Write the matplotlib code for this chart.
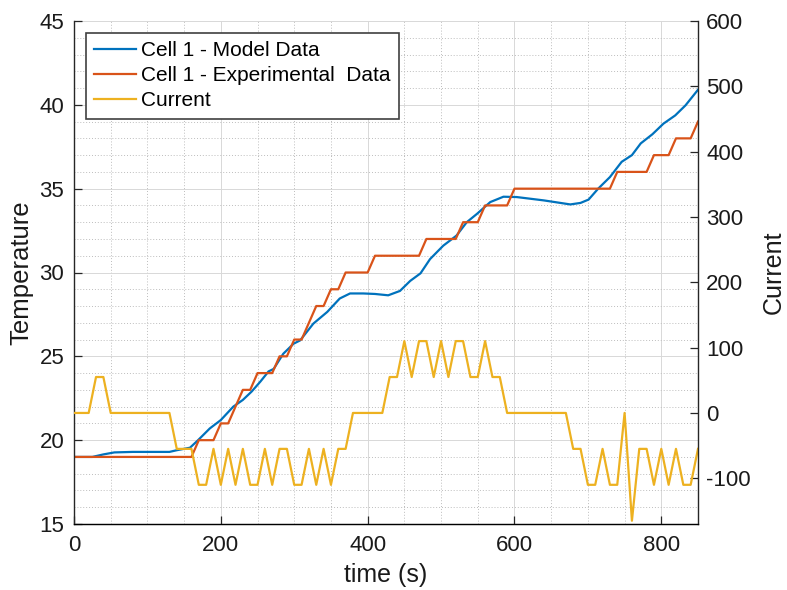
import matplotlib
matplotlib.use('Agg')
import matplotlib.pyplot as plt
import numpy as np

plt.rcParams['font.family'] = ['Liberation Sans', 'DejaVu Sans']
plt.rcParams['axes.unicode_minus'] = False

# ---- data ----
time_model = [0, 25, 40, 55, 80, 110, 130, 140, 158, 169, 185, 200, 217, 230, 242, 254,
              265, 272, 285, 299, 308, 326, 345, 362, 376, 394, 410, 428, 444, 458, 472,
              485, 503, 521, 535, 549, 567, 585, 603, 640, 676, 690, 701, 714, 730, 746,
              760, 772, 788, 803, 819, 833, 850]
temp_model = [19.0, 19.0, 19.15, 19.27, 19.3, 19.3, 19.3, 19.4, 19.55, 20.0, 20.7, 21.2,
              22.0, 22.4, 22.9, 23.5, 24.1, 24.25, 25.15, 25.75, 25.95, 26.95, 27.65,
              28.45, 28.75, 28.75, 28.72, 28.64, 28.9, 29.5, 29.95, 30.8, 31.6, 32.2,
              33.0, 33.5, 34.2, 34.52, 34.5, 34.3, 34.06, 34.15, 34.35, 35.0, 35.69,
              36.6, 37.0, 37.7, 38.25, 38.88, 39.37, 39.97, 40.9]

time_exp = [0, 160, 170, 190, 200, 210, 230, 240, 250, 270, 280, 290, 300, 310, 330, 340,
            350, 360, 370, 400, 410, 470, 480, 520, 530, 550, 560, 590, 600, 730, 740,
            780, 790, 810, 820, 840, 850]
temp_exp = [19, 19, 20, 20, 21, 21, 23, 23, 24, 24, 25, 25, 26, 26, 28, 28,
            29, 29, 30, 30, 31, 31, 32, 32, 33, 33, 34, 34, 35, 35, 36,
            36, 37, 37, 38, 38, 39]

time_current = [0, 20, 30, 40, 50, 130, 140, 160, 170, 180, 190, 200, 210, 220, 230, 240,
                250, 260, 270, 280, 290, 300, 310, 320, 330, 340, 350, 360, 370, 380,
                420, 430, 440, 450, 460, 470, 480, 490, 500, 510, 520, 530, 540, 550,
                560, 570, 580, 590, 670, 680, 690, 700, 710, 720, 730, 740, 750, 760,
                770, 780, 790, 800, 810, 820, 830, 840, 850]
current = [0, 0, 55, 55, 0, 0, -55, -55, -110, -110, -55, -110, -55, -110, -55, -110,
           -110, -55, -110, -55, -55, -110, -110, -55, -110, -55, -110, -55, -55, 0,
           0, 55, 55, 110, 55, 110, 110, 55, 110, 55, 110, 110, 55, 55,
           110, 55, 55, 0, 0, -55, -55, -110, -110, -55, -110, -110, 0, -165,
           -55, -55, -110, -55, -110, -55, -110, -110, -55]

legend_labels = ['Cell 1 - Model Data', 'Cell 1 - Experimental  Data', 'Current']
x_ticks = [0, 200, 400, 600, 800]
temp_ticks = [15, 20, 25, 30, 35, 40, 45]
current_ticks = [-100, 0, 100, 200, 300, 400, 500, 600]

# ---- figure ----
W, H = 787, 590
fig = plt.figure(figsize=(W / 100, H / 100), dpi=100)
ax = fig.add_axes([74 / W, 1 - 524 / H, 624 / W, 503 / H])
ax2 = ax.twinx()

blue = '#0072BD'
orange = '#D95319'
yellow = '#EDB120'
dark = '#262626'

l1, = ax.plot(time_model, temp_model, color=blue, lw=1.6)
l2, = ax.plot(time_exp, temp_exp, color=orange, lw=1.6)
l3, = ax2.plot(time_current, current, color=yellow, lw=1.6)

ax.set_xlim(0, 850)
ax.set_ylim(15, 45)
ax2.set_ylim(-170, 600)

ax.set_xticks(x_ticks)
ax.set_xticks(np.arange(0, 851, 50), minor=True)
ax.set_yticks(temp_ticks)
ax.set_yticks(np.arange(15, 46, 1), minor=True)
ax2.set_yticks(current_ticks)

ax.grid(which='major', color='#d8d8d8', lw=0.7, ls='-')
ax.grid(which='minor', color='#bdbdbd', lw=0.7, ls=(0, (1, 2)))
ax.set_axisbelow(True)

for a in (ax, ax2):
    a.tick_params(which='minor', length=0)
    a.tick_params(which='major', direction='in', length=6, width=0.9,
                  color=dark, labelcolor='#1a1a1a', labelsize=16)
    a.spines['top'].set_visible(False)
ax.spines['right'].set_visible(False)
ax2.spines['left'].set_visible(False)
for s in ('left', 'bottom'):
    ax.spines[s].set_color(dark)
    ax.spines[s].set_linewidth(1.0)
ax2.spines['right'].set_color(dark)
ax2.spines['right'].set_linewidth(1.0)

ax.tick_params(axis='x', pad=8)
ax.tick_params(axis='y', pad=7)
ax2.tick_params(axis='y', pad=6)

ax.set_xlabel('time (s)', fontsize=18, color='#1a1a1a', labelpad=5)
ax.set_ylabel('Temperature', fontsize=18.5, color='#1a1a1a', labelpad=4)
ax2.set_ylabel('Current', fontsize=18, color='#1a1a1a', labelpad=8)

leg = ax2.legend([l1, l2, l3], legend_labels, loc='upper left',
                 bbox_to_anchor=(0.019, 0.977), borderaxespad=0,
                 fontsize=15, fancybox=False, framealpha=1,
                 edgecolor='#404040', handlelength=2.0, handletextpad=0.25,
                 labelspacing=0.3, borderpad=0.4)
leg.get_frame().set_linewidth(1.2)

fig.savefig('out.png', dpi=100)
